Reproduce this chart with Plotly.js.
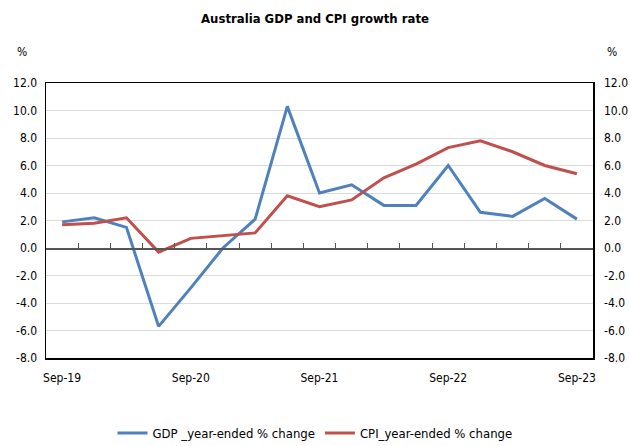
<!DOCTYPE html>
<html><head><meta charset="utf-8">
<script src="https://cdn.plot.ly/plotly-3.0.1.min.js"></script>
<style>html,body{margin:0;padding:0;background:#fff}#chart{width:630px;height:446px}</style>
</head><body><div id="chart"></div>
<script>
const quarters = ["Sep-19","Dec-19","Mar-20","Jun-20","Sep-20","Dec-20","Mar-21","Jun-21","Sep-21","Dec-21","Mar-22","Jun-22","Sep-22","Dec-22","Mar-23","Jun-23","Sep-23"];
const tickLabels = ["Sep-19","Sep-20","Sep-21","Sep-22","Sep-23"];
const gdp = [1.9, 2.2, 1.5, -5.7, -2.9, 0.0, 2.1, 10.3, 4.0, 4.6, 3.1, 3.1, 6.0, 2.6, 2.3, 3.6, 2.1];
const cpi = [1.7, 1.8, 2.2, -0.3, 0.7, 0.9, 1.1, 3.8, 3.0, 3.5, 5.1, 6.1, 7.3, 7.8, 7.0, 6.0, 5.4];
const yTicks = [-8,-6,-4,-2,0,2,4,6,8,10,12];

const F = '"Liberation Sans Narrow","DejaVu Sans Condensed","Liberation Sans",sans-serif';
const tickFont = {family: F, size: 12, color: '#000'};

const traces = [
  {x: quarters, y: gdp, type: 'scatter', mode: 'lines', name: 'GDP _year-ended % change',
   line: {color: '#4F81BD', width: 3}, xaxis: 'x', yaxis: 'y'},
  {x: quarters, y: cpi, type: 'scatter', mode: 'lines', name: 'CPI_year-ended % change',
   line: {color: '#C0504D', width: 3}, xaxis: 'x', yaxis: 'y2'},
  {x: quarters, y: quarters.map(() => null), type: 'scatter', mode: 'lines', showlegend: false,
   hoverinfo: 'skip', xaxis: 'x2', yaxis: 'y'}
];

const yCommon = {range: [-8, 12], tickvals: yTicks, ticktext: yTicks.map(v => v.toFixed(1)),
  ticks: '', tickfont: tickFont, zeroline: false, fixedrange: true};

const layout = {
  width: 630, height: 446,
  margin: {l: 46, r: 37, t: 83, b: 88},
  paper_bgcolor: '#fff', plot_bgcolor: '#fff',
  title: {text: 'Australia GDP and CPI growth rate', font: {family: F, size: 13, color: '#000', weight: 'bold'},
    x: 0.5, xanchor: 'center', y: 1 - 18/446, yanchor: 'middle', xref: 'container', yref: 'container'},
  xaxis: {type: 'category', categoryorder: 'array', categoryarray: quarters, range: [-0.5, 16.5],
    tickvals: tickLabels, ticktext: tickLabels, ticks: '', tickfont: tickFont, ticklabelstandoff: 8,
    showgrid: false, showline: true, linecolor: '#000', linewidth: 1.5, mirror: true, zeroline: false},
  xaxis2: {type: 'category', categoryorder: 'array', categoryarray: quarters, range: [-0.5, 16.5],
    overlaying: 'x', anchor: 'free', position: 0.4, side: 'bottom', ticks: 'inside', tickson: 'boundaries',
    ticklen: 5, tickcolor: '#555', tickwidth: 1, showticklabels: false, showgrid: false,
    showline: true, linecolor: '#555', linewidth: 1.5, zeroline: false},
  yaxis: Object.assign({}, yCommon, {side: 'left', showgrid: true, gridcolor: '#dcdcdc', gridwidth: 1,
    showline: true, linecolor: '#000', linewidth: 1.5, mirror: true, ticklabelstandoff: 5}),
  yaxis2: Object.assign({}, yCommon, {side: 'right', overlaying: 'y', anchor: 'x', showgrid: false,
    showline: false, ticklabelstandoff: 10}),
  showlegend: true,
  legend: {orientation: 'h', xref: 'container', yref: 'container', x: 0.5, xanchor: 'center',
    y: 1 - 433/446, yanchor: 'middle', font: {family: F, size: 13, color: '#000'},
    itemwidth: 30, tracegroupgap: 0},
  annotations: [
    {text: '%', xref: 'paper', yref: 'paper', x: (22-46)/547, y: (358-52)/275, showarrow: false,
     xanchor: 'center', yanchor: 'middle', font: {family: F, size: 12, color: '#000'}},
    {text: '%', xref: 'paper', yref: 'paper', x: (612-46)/547, y: (358-52)/275, showarrow: false,
     xanchor: 'center', yanchor: 'middle', font: {family: F, size: 12, color: '#000'}}
  ]
};

Plotly.newPlot('chart', traces, layout, {displayModeBar: false, staticPlot: true});
</script>
</body></html>
